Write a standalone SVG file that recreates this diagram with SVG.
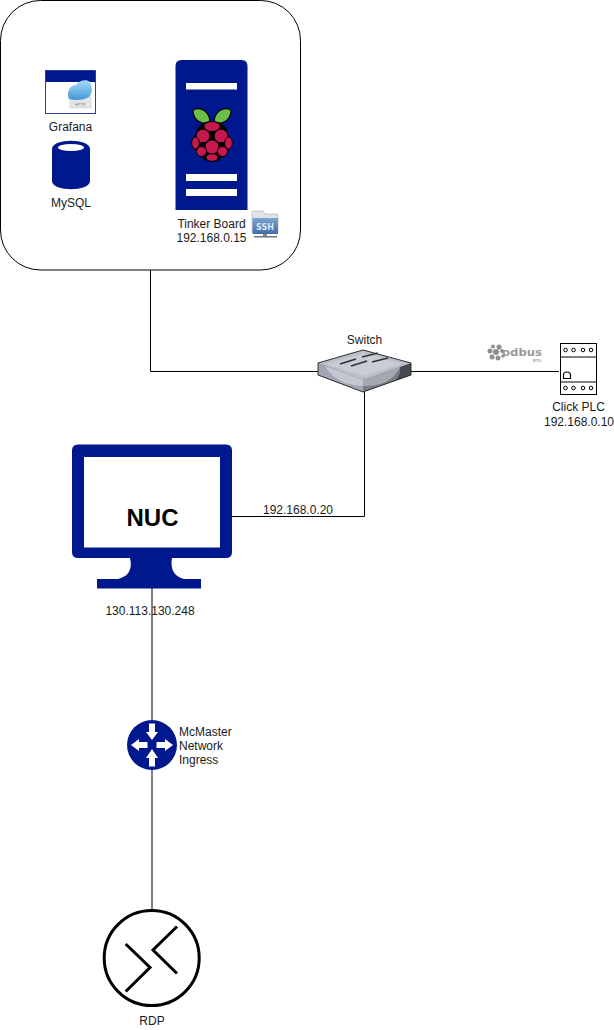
<svg xmlns="http://www.w3.org/2000/svg" width="614" height="1030" viewBox="0 0 614 1030">
<style>
text{font-family:"Liberation Sans",Arial,sans-serif;font-size:12px;fill:#1a1a1a}
.c{text-anchor:middle}
.n{fill:#00188d}
.w{fill:#fff}
.conn{fill:none;stroke:#000;stroke-width:1}
.gray{fill:none;stroke:#808080;stroke-width:2}
.berry{fill:#c7174f;stroke:#000;stroke-width:.9}
.leaf{fill:#6cc04a;stroke:#000;stroke-width:1.2}
.hole{fill:#fff;stroke:#000;stroke-width:1}
.mb{fill:#8f8f8f}
</style>
<defs>
<linearGradient id="cloud" x1="0" y1="0" x2="0" y2="1"><stop offset="0" stop-color="#a9dcf7"/><stop offset="1" stop-color="#3f97d8"/></linearGradient>
<linearGradient id="ssh" x1="0" y1="0" x2="0" y2="1"><stop offset="0" stop-color="#7fa4cf"/><stop offset="1" stop-color="#3f6ea8"/></linearGradient>
</defs>
<rect width="614" height="1030" fill="#fff"/>
<g id="container"><rect x="0.5" y="0.5" width="300" height="269.5" rx="40" ry="40" fill="#fff" stroke="#000"/></g>
<g id="connectors">
<path class="conn" d="M150.5 270V371.5H318"/>
<path class="conn" d="M411 371.5H559"/>
<path class="conn" d="M364.5 392V516.5H232"/>
<path class="gray" d="M152 588V911"/>
</g>
<g id="grafana">
<rect x="45.5" y="70.5" width="50" height="43" fill="#fff" stroke="#2a3f9f"/>
<rect x="46" y="71" width="49" height="11" class="n"/>
<path d="M70 96V108H91V97Z" fill="#e4e6e6" stroke="#c4c4c4" stroke-width=".5"/>
<path d="M69 99C66 92 70 85 76 85C79 80 87 79 90 82C93 88 92 94 89 97C84 100 75 101 69 99Z" fill="url(#cloud)"/>
<text x="80.5" y="106" class="c" style="font-size:4px;fill:#777">HTTP</text>
<text x="70.5" y="131" class="c">Grafana</text>
</g>
<g id="mysql">
<path class="n" d="M52 149C52 138 90 138 90 149V181C90 192 52 192 52 181Z"/>
<ellipse cx="71" cy="147.500" rx="13" ry="3.500" class="w"/>
<text x="71" y="207" class="c">MySQL</text>
</g>
<g id="tinker-board">
<path class="n" d="M175.500 210V66Q175.500 60 181.500 60H241.500Q247.500 60 247.500 66V210Z"/>
<rect x="186" y="83" width="51" height="6.500" class="w"/>
<rect x="186" y="174" width="51" height="7" class="w"/>
<rect x="186" y="189" width="51" height="7" class="w"/>
<path class="leaf" d="M193 110C200 106 210 111 210 123C201 125 193 120 193 110Z"/>
<path class="leaf" d="M231 110C224 106 214 111 214 123C223 125 231 120 231 110Z"/>
<path d="M212 121C203 121 196 127 196 134C191 139 190 146 195 150C199 157 206 162 212 162C218 162 225 157 229 150C234 146 233 139 228 134C228 127 221 121 212 121Z" fill="#000"/>
<ellipse class="berry" cx="212" cy="126.500" rx="8" ry="5"/>
<circle class="berry" cx="203" cy="136" r="6.800"/>
<circle class="berry" cx="221" cy="136" r="6.800"/>
<circle class="berry" cx="212" cy="147" r="7"/>
<ellipse class="berry" cx="195.500" cy="143" rx="3.800" ry="6"/>
<ellipse class="berry" cx="228.500" cy="143" rx="3.800" ry="6"/>
<circle class="berry" cx="201.500" cy="151.500" r="5"/>
<circle class="berry" cx="222.500" cy="151.500" r="5"/>
<ellipse class="berry" cx="212" cy="157.500" rx="6" ry="3.800"/>
<text x="211.500" y="228" class="c">Tinker Board</text>
<text x="211.500" y="242" class="c">192.168.0.15</text>
</g>
<g id="ssh">
<path d="M252 232V212Q252 211 253 211H263L265 214H277Q278 214 278 215V232Z" fill="#dfe3e8" stroke="#a9b0b8" stroke-width=".6"/>
<rect x="252.500" y="218" width="25.500" height="16" fill="url(#ssh)"/>
<text x="265" y="230" class="c" style="font-size:8px;font-weight:bold;fill:#dbe7f3;font-family:'DejaVu Sans',sans-serif">SSH</text>
<rect x="263" y="234" width="4" height="2" fill="#888"/>
<rect x="254" y="236" width="23" height="1.500" fill="#6d7680"/>
</g>
<g id="switch">
<path d="M318 363L363 350L411 363V375L363 392L318 375Z" fill="#5f6670"/>
<path d="M318 363L363 380V392L318 375Z" fill="#a0a6b4"/>
<path d="M363 380L411 363V375L363 392Z" fill="#777d88"/>
<path d="M400 367L411 363V375L396 380Q401 374 400 367Z" fill="#454a52"/>
<path d="M318 363L363 350L411 363L363 380Z" fill="#b9bfcb"/>
<path d="M325 366C335 383 350 385 363 386V380Z" fill="#c3c7cf"/>
<path d="M363 386C380 386 393 382 400 367L363 380Z" fill="#a5a9af"/>
<path d="M326 364L363 353L402 364L363 376Z" fill="#c9ccd4"/>
<path d="M318 363L363 350L411 363M318 363V375L363 392L411 375V363" fill="none" stroke="#222" stroke-width=".9"/>
<path d="M340 364L356 359M351 366L367 361M362 357L378 353M372 362L388 358" stroke="#333" stroke-width="1.700" fill="none"/>
<text x="364.500" y="344" class="c">Switch</text>
</g>
<g id="modbus">
<circle class="mb" cx="493" cy="346.500" r="2"/><circle class="mb" cx="499" cy="347" r="2.500"/><circle class="mb" cx="490" cy="351" r="2.500"/><circle class="mb" cx="496" cy="352" r="3"/><circle class="mb" cx="502" cy="351" r="2"/><circle class="mb" cx="492" cy="357" r="2.500"/><circle class="mb" cx="498" cy="358" r="2.500"/><circle class="mb" cx="503" cy="356" r="1.800"/>
<text x="502" y="356" style="font-size:10px;font-weight:bold;fill:#9a9a9a;font-family:'DejaVu Sans',sans-serif" textLength="40" lengthAdjust="spacingAndGlyphs">odbus</text>
<text x="533" y="362" style="font-size:4px;font-weight:bold;fill:#9a9a9a">RTU</text>
</g>
<g id="click-plc">
<rect x="560.500" y="343.500" width="36" height="51" fill="#fff" stroke="#000"/>
<path class="conn" d="M560.500 357H596.500M560.500 382H596.500"/>
<circle class="hole" cx="565.500" cy="350" r="1.800"/><circle class="hole" cx="573.500" cy="350" r="1.800"/><circle class="hole" cx="583" cy="350" r="1.800"/><circle class="hole" cx="591" cy="350" r="1.800"/>
<circle class="hole" cx="565.500" cy="388" r="1.800"/><circle class="hole" cx="573.500" cy="388" r="1.800"/><circle class="hole" cx="583" cy="388" r="1.800"/><circle class="hole" cx="591" cy="388" r="1.800"/>
<path d="M563.500 378.500V375Q563.500 372 567 372Q570.500 372 570.500 375V378.500Z" fill="#fff" stroke="#000" stroke-width="1.200"/>
<text x="578.500" y="411" class="c">Click PLC</text>
<text x="579" y="425.500" class="c">192.168.0.10</text>
</g>
<g id="nuc">
<path class="n" d="M78 444.500H226Q232 444.500 232 450.500V552Q232 558 226 558H172Q169 575 184 579H201V588.500H97V579H118Q134 575 130 558H78Q72 558 72 552V450.500Q72 444.500 78 444.500Z"/>
<rect x="84" y="457" width="136" height="90.500" class="w"/>
<text x="152.500" y="526" class="c" style="font-size:24px;font-weight:bold;fill:#000">NUC</text>
<text x="150" y="615" class="c">130.113.130.248</text>
</g>
<text x="298" y="514" class="c">192.168.0.20</text>
<g id="router">
<circle cx="152" cy="745" r="25" class="n"/>
<path class="w" d="M149 723.500H155V732H158L152 740L146 732H149Z"/>
<path class="w" d="M149 766.500H155V758H158L152 749L146 758H149Z"/>
<path class="w" d="M147.500 742V748H139V751L131 745L139 739V742Z"/>
<path class="w" d="M156.500 742V748H165V751L173 745L165 739V742Z"/>
<text x="179" y="736">McMaster</text>
<text x="179" y="750">Network</text>
<text x="179" y="764">Ingress</text>
</g>
<g id="rdp">
<circle cx="151.700" cy="958" r="47.500" fill="#fff" stroke="#000" stroke-width="3"/>
<path d="M125.700 944L150 967.500L125.700 991.500M177 926.500L153 950L177 973.500" fill="none" stroke="#000" stroke-width="3"/>
<text x="152" y="1025" class="c">RDP</text>
</g>
</svg>
